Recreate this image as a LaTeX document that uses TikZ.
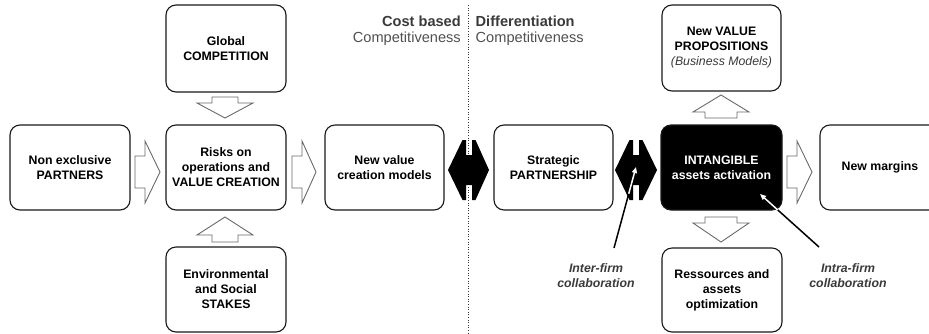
\documentclass[tikz,border=0pt]{standalone}
\usepackage{fontspec}
\setmainfont{Liberation Sans}
\usetikzlibrary{calc,arrows.meta}
\definecolor{darkgray}{HTML}{3A3A3A}
\definecolor{midgray}{HTML}{505050}
\definecolor{arrowgray}{HTML}{6A6A6A}
\begin{document}
\begin{tikzpicture}[x=1pt,y=-1pt,
  box/.style={draw=black!90, line width=1.1pt, rounded corners=10pt, fill=white,
    align=center, inner sep=0pt, font=\fontsize{12.3}{15}\selectfont\bfseries},
  darkbox/.style={box, fill=black, text=white},
  blockarrow/.style={draw=arrowgray, line width=0.9pt, fill=white, line join=miter},
  dblarrow/.style={fill=black},
  lab/.style={align=center, text=darkgray, font=\fontsize{12.3}{15}\selectfont\bfseries\itshape},
  hdr/.style={inner sep=0pt, font=\fontsize{14.6}{18}\selectfont},
  pointer/.style={line width=1.5pt},
]
\useasboundingbox (0,0) rectangle (929,333);

% dividing dotted line
\coordinate (divtop) at (468.5,5);
\coordinate (divbot) at (468.5,333);
\draw[dotted, line width=0.6pt, black!80] (divtop) -- (divbot);

% headers
\node[hdr, anchor=east, text=darkgray, font=\fontsize{14.6}{18}\selectfont\bfseries] (cb) at (461,21) {Cost based};
\node[hdr, anchor=east, text=midgray] (cbc) at (461,39) {Competitiveness};
\node[hdr, anchor=west, text=darkgray, font=\fontsize{14.6}{18}\selectfont\bfseries] (df) at (475.5,21) {Differentiation};
\node[hdr, anchor=west, text=midgray] (dfc) at (475.5,39) {Competitiveness};

% boxes
\node[box, minimum width=120pt, minimum height=85pt] (np) at (70,167.5) {Non exclusive\\PARTNERS};
\node[box, minimum width=120pt, minimum height=85pt] (risk) at (226,167.5) {Risks on\\operations and\\VALUE CREATION};
\node[box, minimum width=119pt, minimum height=85pt] (nvc) at (384.5,167.5) {New value\\creation models};
\node[box, minimum width=119pt, minimum height=85pt] (sp) at (553.5,167.5) {Strategic\\PARTNERSHIP};
\node[darkbox, minimum width=121pt, minimum height=85pt] (int) at (721.5,167.5) {INTANGIBLE\\assets activation};
\node[box, minimum width=120pt, minimum height=85pt] (nm) at (880,167.5) {New margins};
\node[box, minimum width=120pt, minimum height=87pt] (gc) at (226,48.5) {Global\\COMPETITION};
\node[box, minimum width=120pt, minimum height=85pt] (env) at (226,289.5) {Environmental\\and Social\\STAKES};
\node[box, minimum width=119pt, minimum height=86pt] (nvp) at (721.5,48) {New VALUE\\PROPOSITIONS\\{\color{darkgray}\mdseries\itshape(Business Models)}};
\node[box, minimum width=120pt, minimum height=84pt] (res) at (722,290) {Ressources and\\assets\\optimization};

% block arrows (horizontal)
\draw[blockarrow] (135,156) -- (145,156) -- (145,141) -- (160,172) -- (145,203) -- (145,188) -- (135,188) -- cycle;
\draw[blockarrow] (292,156) -- (302,156) -- (302,141) -- (316,172) -- (302,203) -- (302,188) -- (292,188) -- cycle;
\draw[blockarrow] (787,156) -- (797,156) -- (797,141) -- (812,172) -- (797,203) -- (797,188) -- (787,188) -- cycle;

% block arrows (vertical)
\draw[blockarrow] (212,97) -- (238,97) -- (238,103) -- (253,103) -- (225,118) -- (197,103) -- (212,103) -- cycle;
\draw[blockarrow] (212,242) -- (238,242) -- (238,235) -- (253,235) -- (225,217) -- (197,235) -- (212,235) -- cycle;
\draw[blockarrow] (705,118) -- (737,118) -- (737,112) -- (749,112) -- (721,95) -- (693,112) -- (705,112) -- cycle;
\draw[blockarrow] (705,217) -- (737,217) -- (737,223) -- (749,223) -- (721,242) -- (693,223) -- (705,223) -- cycle;

% black double arrows
\fill[dblarrow] (448,170) -- (462.5,140) -- (466,140) -- (466,155) -- (472,155) -- (472,140) -- (475.5,140) -- (489,170)
  -- (475.5,200) -- (472,200) -- (472,185) -- (466,185) -- (466,200) -- (462.5,200) -- cycle;
\fill[dblarrow] (615,170) -- (629.5,140) -- (633,140) -- (633,155) -- (639,155) -- (639,140) -- (642.5,140) -- (657,170)
  -- (642.5,200) -- (639,200) -- (639,185) -- (633,185) -- (633,200) -- (629.5,200) -- cycle;

% pointers
\coordinate (interstart) at (614,248);
\coordinate (intertip) at (636,167);
\coordinate (intrastart) at (819,247);
\coordinate (intratip) at (760,194);
\draw[pointer] (interstart) -- ($(interstart)!0.68!(intertip)$);
\draw[pointer, white, -{Triangle[length=6pt,width=5pt]}] ($(interstart)!0.67!(intertip)$) -- (intertip);
\draw[pointer] (intrastart) -- ($(intrastart)!0.71!(intratip)$);
\draw[pointer, white, -{Triangle[length=6pt,width=5pt]}] ($(intrastart)!0.70!(intratip)$) -- (intratip);

% labels
\node[lab] (interlab) at (596,275.5) {Inter-firm\\collaboration};
\node[lab] (intralab) at (848,275.5) {Intra-firm\\collaboration};
\end{tikzpicture}
\end{document}
